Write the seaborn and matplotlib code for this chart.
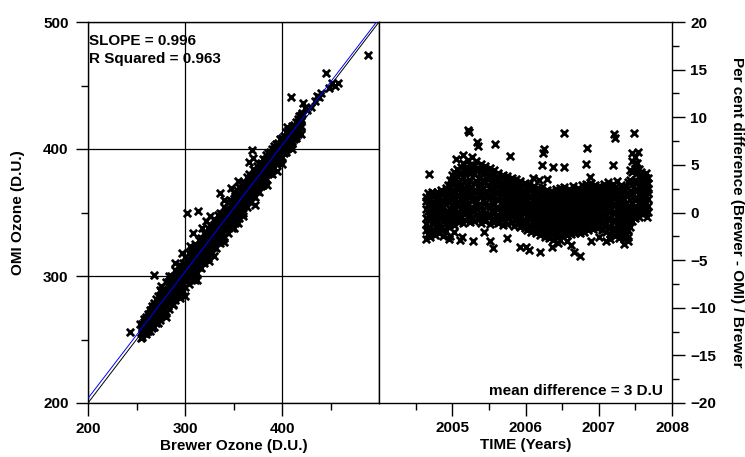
import matplotlib
matplotlib.use("Agg")
import matplotlib.pyplot as plt
import seaborn as sns
from matplotlib.ticker import FixedLocator

# ---------------- data: left panel (Brewer vs OMI ozone, D.U.) ----------------
brewer = [256, 258, 260, 262, 264, 266, 268, 270, 272, 274,
          276, 278, 280, 282, 284, 286, 288, 290, 292, 294,
          296, 298, 300, 302, 304, 306, 308, 310, 312, 314,
          316, 318, 320, 322, 324, 326, 328, 330, 332, 334,
          336, 338, 340, 342, 344, 346, 348, 350, 352, 354,
          356, 358, 360, 362, 364, 366, 368, 370, 372, 374,
          376, 378, 380, 382, 384, 386, 388, 390, 392, 394,
          396, 398, 400, 402, 404, 406, 408, 410, 412, 414,
          416, 418, 420]
omi_low = [252, 255, 254, 257, 257, 259, 260, 263, 263, 265,
           270, 269, 271, 276, 274, 279, 278, 281, 285, 284,
           289, 288, 291, 296, 294, 299, 298, 303, 302, 307,
           306, 311, 310, 316, 314, 319, 318, 323, 322, 327,
           326, 331, 330, 336, 334, 339, 338, 343, 342, 347,
           346, 351, 350, 356, 354, 359, 358, 363, 362, 367,
           366, 371, 372, 376, 376, 380, 381, 385, 385, 389,
           390, 393, 394, 397, 398, 401, 404, 405, 408, 409,
           412, 414, 417]
omi_q = [254, 256, 256, 260, 261, 262, 266, 266, 270, 270,
         274, 274, 278, 278, 282, 282, 286, 286, 290, 290,
         294, 294, 298, 298, 302, 302, 306, 306, 310, 310,
         314, 314, 318, 318, 322, 322, 326, 326, 330, 330,
         334, 334, 338, 338, 342, 342, 346, 346, 350, 350,
         354, 354, 358, 358, 362, 362, 366, 366, 370, 370,
         374, 374, 378, 378, 382, 382, 386, 386, 390, 390,
         394, 394, 398, 398, 402, 402, 406, 406, 410, 410,
         414, 414, 418]
omi_mid = [257, 259, 263, 264, 267, 270, 271, 272, 276, 278,
           277, 283, 284, 283, 289, 287, 293, 292, 296, 298,
           297, 303, 302, 304, 309, 307, 313, 312, 317, 316,
           321, 320, 325, 324, 329, 328, 333, 332, 337, 336,
           341, 340, 345, 344, 349, 348, 353, 352, 357, 356,
           361, 360, 365, 364, 369, 368, 373, 372, 377, 376,
           380, 381, 384, 385, 388, 389, 392, 393, 396, 397,
           400, 401, 403, 404, 407, 408, 411, 412, 414, 417,
           418, 421, 422]
omi_r = [260, 264, 266, 268, 271, 274, 276, 277, 280, 281,
         284, 284, 288, 288, 292, 292, 296, 296, 300, 300,
         304, 304, 308, 308, 312, 312, 316, 316, 320, 320,
         324, 324, 328, 328, 332, 332, 336, 336, 340, 340,
         344, 344, 348, 348, 352, 352, 356, 356, 360, 360,
         364, 364, 368, 368, 372, 372, 376, 376, 380, 380,
         384, 384, 388, 388, 392, 392, 396, 396, 400, 400,
         403, 403, 406, 406, 409, 409, 413, 413, 416, 416,
         420, 422, 424]
omi_high = [262, 266, 268, 270, 273, 276, 279, 282, 284, 289,
            288, 290, 295, 294, 296, 300, 299, 305, 303, 309,
            308, 310, 315, 313, 318, 320, 319, 325, 323, 328,
            330, 329, 334, 333, 338, 340, 339, 345, 343, 348,
            350, 349, 354, 353, 358, 360, 359, 365, 363, 368,
            370, 369, 374, 373, 378, 380, 379, 384, 383, 387,
            388, 389, 392, 391, 395, 397, 398, 400, 402, 404,
            405, 408, 409, 410, 413, 415, 416, 418, 419, 421,
            424, 426, 427]
brewer_extra = [243, 255, 254, 268, 288, 300, 302, 313, 308, 312,
                336, 330, 322, 350, 360, 366, 369, 370, 405, 409,
                418, 422, 421, 424, 426, 420, 430, 434, 436, 438,
                440, 445, 448, 452, 455, 458, 489, 395, 400, 410, 385,
                275, 283, 290, 297, 305, 318, 326, 340, 347, 355,
                280, 295, 310, 325, 340, 355, 372, 390]
omi_extra = [256, 251, 262, 301, 277, 284, 350, 351, 334, 297,
             365, 316, 343, 338, 347, 390, 399, 393, 417, 441,
             420, 436, 428, 432, 431, 412, 433, 438, 442, 441,
             444, 460, 448, 452, 450, 452, 474, 383, 388, 400, 372,
             292, 300, 310, 318, 324, 338, 347, 360, 369, 375,
             268, 283, 297, 312, 327, 342, 356, 380]
fit_slope = 0.996
fit_intercept = 4.5
slope_text = "SLOPE = 0.996"
r2_text = "R Squared = 0.963"

# ---------------- data: right panel (per cent difference vs time) ----------------
times = [2004.64, 2004.67, 2004.70, 2004.73, 2004.76, 2004.79, 2004.82, 2004.85, 2004.88, 2004.91, 2004.94, 2004.97,
         2005.00, 2005.03, 2005.06, 2005.09, 2005.12, 2005.15, 2005.18, 2005.21, 2005.24, 2005.27, 2005.30, 2005.33,
         2005.36, 2005.39, 2005.42, 2005.45, 2005.48, 2005.51, 2005.54, 2005.57, 2005.60, 2005.63, 2005.66, 2005.69,
         2005.72, 2005.75, 2005.78, 2005.81, 2005.84, 2005.87, 2005.90, 2005.93, 2005.96, 2005.99, 2006.02, 2006.05,
         2006.08, 2006.11, 2006.14, 2006.17, 2006.20, 2006.23, 2006.26, 2006.29, 2006.32, 2006.35, 2006.38, 2006.41,
         2006.44, 2006.47, 2006.50, 2006.53, 2006.56, 2006.59, 2006.62, 2006.65, 2006.68, 2006.71, 2006.74, 2006.77,
         2006.80, 2006.83, 2006.86, 2006.89, 2006.92, 2006.95, 2006.98, 2007.01, 2007.04, 2007.07, 2007.10, 2007.13,
         2007.16, 2007.19, 2007.22, 2007.25, 2007.28, 2007.31, 2007.34, 2007.37, 2007.40, 2007.43, 2007.46, 2007.49,
         2007.52, 2007.55, 2007.58, 2007.61, 2007.64, 2007.67]
diff_a = [-2.8, -2.3, -2.6, -2.0, -2.4, -1.8, -2.2, -1.6, -2.5, -1.9, -1.4, -1.2,
          -0.9, -1.3, -0.7, -1.0, -0.6, -1.1, -0.8, -0.4, -1.0, -0.5, -0.9, -0.3,
          -0.7, -1.1, -0.6, -0.9, -0.4, -1.2, -0.8, -1.0, -0.5, -1.1, -0.7, -1.3,
          -0.9, -1.2, -0.6, -1.0, -1.4, -0.8, -1.2, -1.5, -1.0, -1.6, -1.8, -1.3,
          -2.0, -1.5, -2.2, -1.7, -2.4, -1.9, -2.6, -2.1, -2.7, -2.2, -2.9, -2.3,
          -2.6, -2.0, -2.5, -1.9, -2.4, -1.8, -2.3, -1.7, -2.2, -1.6, -2.1, -1.5,
          -2.0, -1.4, -1.8, -1.3, -1.7, -1.2, -1.6, -1.4, -1.8, -1.3, -2.0, -1.6,
          -2.3, -1.8, -2.5, -2.0, -2.7, -2.2, -2.8, -2.4, -2.6, -1.5, -0.9, -0.6,
          -0.3, -0.5, 0.0, -0.2, 0.3, 0.1]
diff_e = [-1.8, -1.7, -2.2, -1.1, -1.9, -0.9, -1.6, -0.7, -1.8, -0.8, -1.0, -0.3,
          -0.2, -0.5, 0.1, -0.2, 0.4, -0.1, 0.4, 0.2, 0.4, 0.5, 0.2, 0.5,
          0.6, -0.2, 0.4, 0.0, 0.7, -0.3, 0.3, -0.1, 0.5, -0.3, 0.2, -0.4,
          0.1, -0.4, 0.2, -0.4, -0.2, -0.4, -0.2, -0.8, -0.1, -0.9, -1.0, -0.7,
          -1.4, -0.8, -1.6, -0.9, -1.6, -1.3, -1.8, -1.5, -1.9, -1.6, -2.1, -1.5,
          -1.8, -1.3, -1.7, -1.1, -1.7, -1.0, -1.6, -0.9, -1.5, -0.8, -1.4, -0.7,
          -1.3, -0.6, -1.1, -0.5, -1.0, -0.4, -0.9, -0.6, -1.0, -0.4, -1.2, -0.7,
          -1.5, -0.9, -1.7, -1.2, -1.9, -1.3, -2.0, -1.5, -1.8, -0.6, 0.1, 0.4,
          0.6, 0.3, 0.8, 0.5, 1.0, 0.7]
diff_b = [-1.2, -0.8, -1.5, -0.6, -1.0, -0.3, -1.3, -0.2, -0.9, 0.1, -0.5, 0.4,
          0.8, 0.5, 1.1, 0.7, 1.3, 0.9, 1.4, 1.0, 1.6, 1.2, 1.5, 1.1,
          1.7, 0.8, 1.3, 1.0, 1.6, 0.7, 1.2, 0.9, 1.4, 0.6, 1.0, 0.4,
          0.9, 0.5, 0.8, 0.3, 0.7, 0.2, 0.6, 0.1, 0.5, -0.1, -0.4, 0.0,
          -0.6, -0.2, -0.8, -0.3, -0.9, -0.5, -1.1, -0.7, -1.3, -0.8, -1.4, -0.6,
          -1.2, -0.5, -1.0, -0.4, -0.9, -0.3, -0.8, -0.2, -0.7, -0.1, -0.6, 0.0,
          -0.5, 0.1, -0.4, 0.2, -0.3, 0.3, -0.2, 0.2, -0.1, 0.4, -0.3, 0.1,
          -0.6, 0.0, -0.8, -0.4, -1.0, -0.5, -1.1, -0.7, -0.9, 0.4, 1.0, 1.3,
          1.5, 1.1, 1.6, 1.2, 1.7, 1.4]
diff_f = [-0.6, 0.2, -0.5, 0.1, -0.1, 0.6, -0.4, 0.4, -0.3, 0.9, 0.2, 1.3,
          1.5, 1.4, 1.8, 1.7, 2.0, 1.9, 2.4, 1.8, 2.6, 1.9, 2.4, 2.1,
          2.3, 1.8, 2.0, 2.2, 2.2, 1.5, 2.2, 1.6, 2.2, 1.3, 1.9, 1.1,
          1.7, 1.1, 1.7, 1.0, 1.5, 0.9, 1.5, 0.8, 1.3, 0.6, 0.5, 0.8,
          0.3, 0.6, 0.1, 0.4, -0.2, 0.4, -0.4, 0.2, -0.5, 0.0, -0.6, 0.2,
          -0.5, 0.3, -0.3, 0.4, -0.2, 0.5, -0.1, 0.6, -0.1, 0.7, 0.2, 0.8,
          0.1, 0.9, 0.3, 1.0, 0.4, 1.1, 0.5, 0.9, 0.6, 1.2, 0.4, 0.9,
          0.2, 0.8, 0.0, 0.5, -0.2, 0.3, -0.3, 0.2, -0.1, 1.3, 2.0, 2.4,
          2.3, 1.9, 2.4, 2.0, 2.3, 2.0]
diff_c = [0.4, 0.9, 0.2, 1.0, 0.5, 1.2, 0.8, 1.3, 0.6, 1.5, 1.1, 2.0,
          2.4, 2.2, 2.8, 2.5, 3.0, 2.6, 3.2, 2.9, 3.4, 2.7, 3.1, 3.3,
          2.8, 3.0, 2.6, 3.2, 2.9, 2.5, 3.1, 2.4, 2.8, 2.2, 2.6, 2.0,
          2.3, 1.9, 2.4, 1.8, 2.1, 1.7, 2.2, 1.6, 1.9, 1.4, 1.2, 1.6,
          1.0, 1.4, 0.8, 1.3, 0.7, 1.1, 0.5, 0.9, 0.3, 0.8, 0.2, 0.9,
          0.4, 1.0, 0.6, 1.1, 0.5, 1.2, 0.7, 1.3, 0.6, 1.4, 0.9, 1.5,
          0.8, 1.6, 1.0, 1.7, 1.1, 1.8, 1.2, 1.6, 1.3, 1.9, 1.1, 1.7,
          1.0, 1.5, 0.8, 1.3, 0.6, 1.2, 0.5, 1.0, 0.7, 2.3, 3.0, 3.4,
          3.1, 2.8, 3.3, 2.7, 3.0, 2.5]
diff_g = [1.2, 1.3, 0.9, 1.8, 1.0, 1.8, 1.1, 2.0, 1.1, 2.2, 1.9, 2.8,
          3.0, 3.4, 3.8, 3.2, 4.0, 3.7, 4.1, 4.3, 4.1, 4.4, 4.0, 4.5,
          3.6, 4.2, 3.4, 4.1, 3.5, 3.7, 3.6, 3.4, 3.3, 3.2, 3.1, 3.0,
          2.8, 2.9, 2.8, 2.7, 2.6, 2.7, 2.5, 2.5, 2.3, 2.3, 1.9, 2.4,
          1.7, 2.1, 1.5, 2.0, 1.4, 1.8, 1.3, 1.6, 1.0, 1.6, 1.0, 1.7,
          1.1, 1.8, 1.4, 1.9, 1.3, 1.9, 1.3, 2.1, 1.5, 2.0, 1.5, 2.2,
          1.6, 2.3, 1.7, 2.4, 1.8, 2.3, 1.8, 2.2, 1.9, 2.5, 1.8, 2.5,
          1.7, 2.3, 1.8, 2.3, 1.6, 2.0, 1.4, 1.9, 2.0, 3.4, 4.2, 4.6,
          4.1, 3.7, 3.8, 3.2, 3.6, 3.1]
diff_d = [1.6, 2.0, 1.4, 2.2, 1.8, 2.1, 1.7, 2.4, 1.9, 2.6, 2.9, 3.4,
          3.9, 4.3, 4.6, 4.1, 4.8, 5.2, 4.7, 5.5, 5.0, 5.8, 4.9, 5.4,
          4.6, 5.1, 4.4, 4.9, 4.3, 4.7, 4.2, 4.5, 3.9, 4.1, 3.7, 3.9,
          3.5, 3.8, 3.4, 3.6, 3.2, 3.5, 3.0, 3.3, 2.9, 3.1, 2.7, 3.0,
          2.5, 2.8, 2.4, 2.6, 2.2, 2.7, 2.0, 2.4, 1.9, 2.3, 1.8, 2.5,
          2.0, 2.6, 2.1, 2.7, 2.2, 2.5, 2.0, 2.8, 2.3, 2.6, 2.1, 2.9,
          2.4, 3.0, 2.5, 3.1, 2.6, 2.9, 2.4, 2.8, 2.5, 3.0, 2.6, 3.2,
          2.4, 3.0, 2.7, 3.3, 2.5, 2.9, 2.3, 2.8, 3.2, 4.5, 5.4, 5.8,
          5.2, 4.6, 4.2, 3.8, 4.1, 3.6]
time_extra = [2004.68, 2005.22, 2005.23, 2005.34, 2005.35, 2005.59, 2005.79, 2005.11, 2005.13, 2005.28,
              2005.44, 2005.52, 2005.55, 2005.75, 2005.93, 2006.00, 2006.05, 2006.20, 2006.36, 2006.52,
              2006.25, 2006.24, 2006.23, 2006.37, 2006.53, 2006.84, 2006.82, 2006.88, 2007.19, 2007.21,
              2007.22, 2007.48, 2007.45, 2007.66, 2006.44, 2006.66, 2006.75, 2006.62, 2006.90, 2007.10,
              2007.35, 2007.40, 2006.10, 2006.18, 2006.30, 2005.05, 2005.15, 2004.95, 2004.97, 2005.02,
              2006.47, 2006.56, 2007.00, 2007.16, 2007.53, 2007.50]
diff_extra = [4.0, 8.7, 8.5, 7.4, 7.0, 7.2, 5.9, -2.9, -2.6, -3.0,
              -2.0, -3.0, -3.7, -2.7, -3.6, -3.6, -3.9, -4.1, -3.6, 8.3,
              6.7, 6.2, 5.0, 4.8, 4.8, 6.8, 5.1, 3.7, 5.0, 8.2,
              7.8, 8.3, 6.2, -0.5, -3.2, -4.1, -4.6, -3.4, -3.0, -3.0,
              -3.3, -3.0, 3.6, 3.4, 3.5, 5.6, 6.0, -2.8, -2.5, -2.0,
              -2.9, -3.0, -2.6, -2.8, 6.3, 5.2]
mean_text = "mean difference = 3 D.U"

# ---------------- style ----------------
sns.set_theme(style="ticks")
plt.rcParams["font.family"] = ["Liberation Sans", "DejaVu Sans"]
plt.rcParams["font.weight"] = "bold"
plt.rcParams["axes.labelweight"] = "bold"
for key in ("text.color", "axes.labelcolor", "xtick.color", "ytick.color", "axes.edgecolor"):
    plt.rcParams[key] = "black"
plt.rcParams["axes.linewidth"] = 1.0

W, H = 745, 457
fig = plt.figure(figsize=(W / 100, H / 100), dpi=100)
x0, xd, x1 = 88, 379, 672
yt, yb = 22, 403
ax1 = fig.add_axes([x0 / W, 1 - yb / H, (xd - x0) / W, (yb - yt) / H])
ax2 = fig.add_axes([xd / W, 1 - yb / H, (x1 - xd) / W, (yb - yt) / H])

mk = dict(marker="x", color="black", s=28, linewidth=2.0, legend=False)

# left panel
left_tracks = [omi_low, omi_q, omi_mid, omi_r, omi_high]
left_x = brewer * len(left_tracks) + brewer_extra
left_y = sum(left_tracks, []) + omi_extra
sns.scatterplot(x=left_x, y=left_y, ax=ax1, zorder=2, **mk)
line_x = [200, 500]
sns.lineplot(x=line_x, y=line_x, color="black", lw=0.7, ax=ax1, zorder=3)
sns.lineplot(x=line_x, y=[fit_slope * v + fit_intercept for v in line_x],
             color="#0000ff", lw=0.7, ax=ax1, zorder=3)
ax1.set_xlim(200, 500)
ax1.set_ylim(200, 500)
ax1.xaxis.set_major_locator(FixedLocator([200, 300, 400]))
ax1.xaxis.set_minor_locator(FixedLocator([250, 350, 450]))
ax1.yaxis.set_major_locator(FixedLocator([200, 300, 400, 500]))
ax1.yaxis.set_minor_locator(FixedLocator([250, 350, 450]))
ax1.grid(True, which="major", color="black", lw=0.9)
ax1.tick_params(which="major", direction="out", length=9, width=1, pad=5,
                labelsize=11, colors="black")
ax1.tick_params(which="minor", direction="out", length=5, width=1)
ax1.tick_params(top=False, right=False, which="both")
ax1.set_xlabel("Brewer Ozone (D.U.)", fontsize=11, labelpad=2)
ax1.set_ylabel("OMI Ozone (D.U.)", fontsize=11, labelpad=13)
ax1.text(0.005, 0.94, slope_text, transform=ax1.transAxes, fontsize=11,
         fontweight="bold", ha="left", va="baseline", color="black")
ax1.text(0.005, 0.892, r2_text, transform=ax1.transAxes, fontsize=11,
         fontweight="bold", ha="left", va="baseline", color="black")

# right panel
right_tracks = [diff_a, diff_e, diff_b, diff_f, diff_c, diff_g, diff_d]
right_x = times * len(right_tracks) + time_extra
right_y = sum(right_tracks, []) + diff_extra
sns.scatterplot(x=right_x, y=right_y, ax=ax2, **mk)
ax2.set_xlim(2004, 2008)
ax2.set_ylim(-20, 20)
ax2.xaxis.set_major_locator(FixedLocator([2005, 2006, 2007, 2008]))
ax2.xaxis.set_minor_locator(FixedLocator([2004.5, 2005.5, 2006.5, 2007.5]))
ax2.yaxis.set_major_locator(FixedLocator([-20, -15, -10, -5, 0, 5, 10, 15, 20]))
ax2.yaxis.set_minor_locator(FixedLocator([-17.5, -12.5, -7.5, -2.5, 2.5, 7.5, 12.5, 17.5]))
ax2.yaxis.tick_right()
ax2.yaxis.set_label_position("right")
ax2.tick_params(which="major", direction="out", length=9, width=1, pad=4,
                labelsize=11, colors="black")
ax2.tick_params(which="minor", direction="out", length=5, width=1)
ax2.tick_params(left=False, top=False, which="both")
ax2.set_xlabel("TIME (Years)", fontsize=11, labelpad=2)
ax2.set_ylabel("Per cent difference (Brewer - OMI) / Brewer", fontsize=11,
               rotation=270, labelpad=20)
ax2.text(0.969, 0.021, mean_text, transform=ax2.transAxes, fontsize=11,
         fontweight="bold", ha="right", va="baseline", color="black")

for ax in (ax1, ax2):
    for s in ax.spines.values():
        s.set_color("black")
        s.set_linewidth(1.0)

fig.savefig("out.png", dpi=100)
